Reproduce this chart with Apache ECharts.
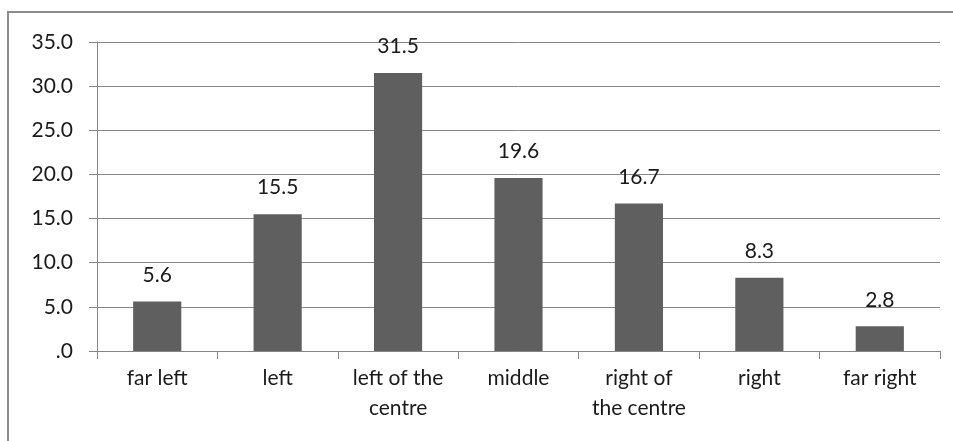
<!DOCTYPE html>
<html>
<head>
<meta charset="utf-8">
<script src="https://cdn.jsdelivr.net/npm/echarts@6/dist/echarts.min.js"></script>
<style>
  html, body { margin: 0; padding: 0; background: #fff; }
  #chart { width: 953px; height: 441px; }
</style>
</head>
<body>
<div id="chart"></div>
<script>
const categories = ["far left", "left", "left of the\ncentre", "middle", "right of\nthe centre", "right", "far right"];
const values = [5.6, 15.5, 31.5, 19.6, 16.7, 8.3, 2.8];
const yTicks = { min: 0, max: 35, interval: 5 };

const chart = echarts.init(document.getElementById("chart"));
const font = "Lato, 'Open Sans', sans-serif";

chart.setOption({
  animation: false,
  // outer frame of the original figure
  graphic: [{
    type: "rect",
    shape: { x: 8, y: 12, width: 960, height: 450 },
    style: { fill: "none", stroke: "#8c8c8c", lineWidth: 2 },
    silent: true
  }],
  grid: { left: 97, right: 13, top: 42, bottom: 90 },
  xAxis: {
    type: "category",
    data: categories,
    axisLine: { lineStyle: { color: "#868686" } },
    axisTick: { show: true, length: 8, lineStyle: { color: "#868686" } },
    axisLabel: { color: "#1a1a1a", fontFamily: font, fontSize: 21, margin: 12, lineHeight: 30, interval: 0 }
  },
  yAxis: {
    type: "value",
    min: yTicks.min, max: yTicks.max, interval: yTicks.interval,
    axisLine: { show: true, lineStyle: { color: "#868686" } },
    axisTick: { show: true, length: 8, lineStyle: { color: "#868686" } },
    splitLine: { lineStyle: { color: "#868686" } },
    axisLabel: {
      color: "#1a1a1a", fontFamily: font, fontSize: 21, margin: 24,
      formatter: v => v === 0 ? ".0" : v.toFixed(1)
    }
  },
  series: [{
    type: "bar",
    data: values,
    barWidth: "40%",
    itemStyle: { color: "#5f5f5f" },
    label: {
      show: true, position: "top", distance: 16,
      color: "#1a1a1a", fontFamily: font, fontSize: 21,
      formatter: p => p.value.toFixed(1)
    }
  }]
});
</script>
</body>
</html>
